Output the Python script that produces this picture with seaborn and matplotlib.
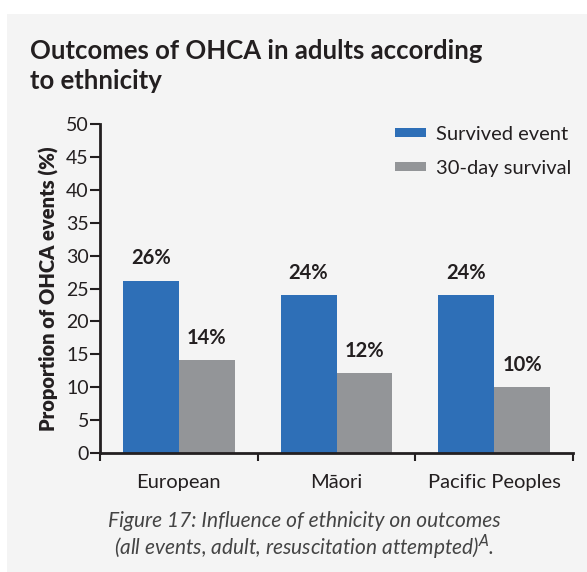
#!/usr/bin/env python3

import pandas
import seaborn as sns
import matplotlib.pyplot as plt
from matplotlib.patches import Rectangle

ethnicities = ["European", "Māori", "Pacific Peoples"]
survived_event = [26.2, 24.0, 24.0]
day30_survival = [14.1, 12.1, 10.0]
series_names = ["Survived event", "30-day survival"]
bar_labels = [["26%", "24%", "24%"], ["14%", "12%", "10%"]]

BLUE = "#2e6fb7"
GREY = "#939598"
INK = "#231f20"


def main():
    sns.set_theme(style="white")
    plt.rcParams["font.family"] = ["Lato", "DejaVu Sans"]

    df = pandas.DataFrame({
        "ethnicity": ethnicities * 2,
        "series": [series_names[0]] * 3 + [series_names[1]] * 3,
        "value": survived_event + day30_survival,
    })

    fig = plt.figure(figsize=(5.87, 5.72), dpi=100)
    fig.patch.set_facecolor("white")
    fig.patches.append(Rectangle((7 / 587, 0), 1, 1 - 14 / 572, transform=fig.transFigure,
                                 facecolor="#f4f4f4", edgecolor="none", zorder=-10))

    ax = fig.add_axes([100 / 587, 119 / 572, 473 / 587, 329 / 572])
    ax.set_facecolor("none")
    sns.barplot(data=df, x="ethnicity", y="value", hue="series", ax=ax,
                palette=[BLUE, GREY], width=0.71, saturation=1, errorbar=None,
                linewidth=0)

    for container, labels in zip(ax.containers, bar_labels):
        ax.bar_label(container, labels=labels, padding=9, fontsize=14.5,
                     fontweight="bold", color=INK)

    ax.set_ylim(0, 50)
    ax.set_xlim(-0.5, 2.5)
    ax.set_yticks(range(0, 51, 5))
    ax.tick_params(axis="y", length=7, width=1.5, color=INK, labelsize=14,
                   labelcolor=INK, pad=1, left=True)
    ax.set_xticks([-0.5, 0.5, 1.5, 2.5], minor=True)
    ax.tick_params(axis="x", which="major", length=0, labelsize=14.5,
                   labelcolor=INK, pad=15)
    ax.tick_params(axis="x", which="minor", length=6, width=1.5, color=INK,
                   bottom=True)
    for side in ["top", "right"]:
        ax.spines[side].set_visible(False)
    for side in ["left", "bottom"]:
        ax.spines[side].set_color(INK)
        ax.spines[side].set_linewidth(2)

    ax.set_xlabel("")
    ax.set_ylabel("Proportion of OHCA events (%)", fontsize=14.5, fontweight="heavy",
                  color=INK, labelpad=5)

    handles, labels = ax.get_legend_handles_labels()
    ax.legend(handles, labels, loc="upper right", bbox_to_anchor=(1.035, 1.05),
              frameon=False, fontsize=14.5, handlelength=1.55, handleheight=0.35,
              labelspacing=0.85, handletextpad=0.5, labelcolor=INK)

    fig.text(30 / 587, 1 - 66 / 572, "Outcomes of OHCA in adults according\nto ethnicity",
             fontsize=18.5, fontweight="bold", color=INK, va="center", ha="left",
             linespacing=1.3)
    fig.text(304 / 587, 1 - 521 / 572, "Figure 17: Influence of ethnicity on outcomes",
             fontsize=15, style="italic", color="#444444", ha="center", va="center")
    fig.text(304 / 587, 1 - 547 / 572, "(all events, adult, resuscitation attempted)$^{A}$.",
             fontsize=15, style="italic", color="#444444", ha="center", va="center")

    fig.savefig("out.png", dpi=100)


if __name__ == "__main__":
    main()
